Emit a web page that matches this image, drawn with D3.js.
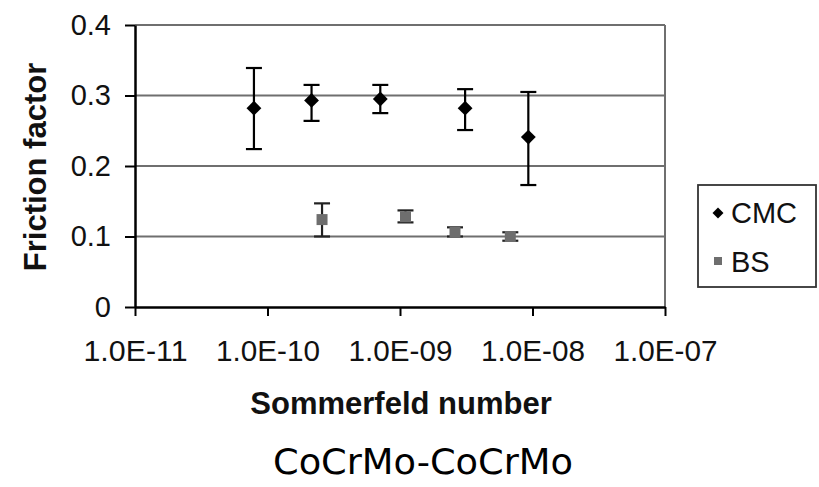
<!DOCTYPE html>
<html>
<head>
<meta charset="utf-8">
<script src="https://cdn.jsdelivr.net/npm/d3@7"></script>
<style>
  body { margin: 0; background: #fff; }
  svg { display: block; }
</style>
</head>
<body>
<div id="chart"></div>
<script>
// data
const cmcX = [7.9e-11, 2.15e-10, 7.1e-10, 3.1e-9, 9.3e-9]
const cmcY = [0.282, 0.293, 0.295, 0.282, 0.241]
const cmcHigh = [0.339, 0.315, 0.315, 0.309, 0.305]
const cmcLow = [0.224, 0.264, 0.275, 0.251, 0.173]

const bsX = [2.58e-10, 1.1e-9, 2.6e-9, 6.8e-9]
const bsY = [0.124, 0.128, 0.106, 0.100]
const bsHigh = [0.147, 0.137, 0.113, 0.106]
const bsLow = [0.100, 0.120, 0.100, 0.094]

const xTicks = [1e-11, 1e-10, 1e-9, 1e-8, 1e-7]
const xTickLabels = ["1.0E-11", "1.0E-10", "1.0E-09", "1.0E-08", "1.0E-07"]
const yTicks = [0, 0.1, 0.2, 0.3, 0.4]
const yTickLabels = ["0", "0.1", "0.2", "0.3", "0.4"]
const seriesNames = ["CMC", "BS"]

const W = 819, H = 487
const plot = { left: 135, right: 665, top: 25, bottom: 307 }

const svg = d3.select("#chart").append("svg")
    .attr("width", W)
    .attr("height", H)

const x = d3.scaleLog().domain([1e-11, 1e-7]).range([plot.left, plot.right])
const y = d3.scaleLinear().domain([0, 0.4]).range([plot.bottom, plot.top])

// gridlines
svg.append("g")
  .selectAll("line")
  .data(yTicks.filter(d => d > 0))
  .join("line")
    .attr("x1", plot.left).attr("x2", plot.right)
    .attr("y1", d => y(d)).attr("y2", d => y(d))
    .attr("stroke", "#6f6f6f").attr("stroke-width", 2)

// right border
svg.append("line")
    .attr("x1", plot.right).attr("x2", plot.right)
    .attr("y1", y(0.4)).attr("y2", y(0))
    .attr("stroke", "#6f6f6f").attr("stroke-width", 2)

// y axis
const yAxis = svg.append("g")
    .attr("transform", `translate(${plot.left},0)`)
    .call(d3.axisLeft(y)
        .tickValues(yTicks)
        .tickFormat((d, i) => yTickLabels[i])
        .tickSizeOuter(0)
        .tickSizeInner(10)
        .tickPadding(14))
yAxis.select(".domain").attr("stroke", "#000").attr("stroke-width", 2.5)
yAxis.selectAll(".tick line").attr("stroke", "#000").attr("stroke-width", 2)
yAxis.selectAll(".tick text")
    .attr("font-family", "'Liberation Sans', Arial, sans-serif")
    .attr("font-size", 29).attr("fill", "#111")

// x axis
const xAxis = svg.append("g")
    .attr("transform", `translate(0,${plot.bottom})`)
    .call(d3.axisBottom(x)
        .tickValues(xTicks)
        .tickFormat((d, i) => xTickLabels[i])
        .tickSizeOuter(0)
        .tickSizeInner(9)
        .tickPadding(24))
xAxis.select(".domain").attr("stroke", "#000").attr("stroke-width", 2.5)
xAxis.selectAll(".tick line").attr("stroke", "#000").attr("stroke-width", 2)
xAxis.selectAll(".tick text")
    .attr("font-family", "'Liberation Sans', Arial, sans-serif")
    .attr("font-size", 29).attr("fill", "#111")
    .attr("textLength", 104).attr("lengthAdjust", "spacingAndGlyphs")

// axis titles
svg.append("text")
    .attr("transform", `translate(46,167) rotate(-90)`)
    .attr("text-anchor", "middle")
    .attr("font-family", "'Liberation Sans', Arial, sans-serif")
    .attr("font-weight", "bold").attr("font-size", 31).attr("fill", "#111")
    .text("Friction factor")

svg.append("text")
    .attr("x", 401).attr("y", 414)
    .attr("text-anchor", "middle")
    .attr("font-family", "'Liberation Sans', Arial, sans-serif")
    .attr("font-weight", "bold").attr("font-size", 31).attr("fill", "#111")
    .text("Sommerfeld number")

svg.append("text")
    .attr("x", 423).attr("y", 474)
    .attr("text-anchor", "middle")
    .attr("font-family", "'DejaVu Sans', Verdana, sans-serif")
    .attr("font-size", 35).attr("fill", "#000")
    .attr("textLength", 300).attr("lengthAdjust", "spacingAndGlyphs")
    .text("CoCrMo-CoCrMo")

// error bars
function drawErrors(xs, lows, highs, color) {
  const g = svg.append("g").attr("stroke", color).attr("stroke-width", 2.2)
  xs.forEach((v, i) => {
    const cx = x(v)
    g.append("line").attr("x1", cx).attr("x2", cx).attr("y1", y(lows[i])).attr("y2", y(highs[i]))
    g.append("line").attr("x1", cx - 8).attr("x2", cx + 8).attr("y1", y(lows[i])).attr("y2", y(lows[i]))
    g.append("line").attr("x1", cx - 8).attr("x2", cx + 8).attr("y1", y(highs[i])).attr("y2", y(highs[i]))
  })
}
drawErrors(cmcX, cmcLow, cmcHigh, "#000")
drawErrors(bsX, bsLow, bsHigh, "#222")

// markers
const diamond = d3.symbol().type(d3.symbolSquare).size(110)
svg.append("g").selectAll("path")
  .data(cmcX)
  .join("path")
    .attr("d", diamond)
    .attr("transform", (d, i) => `translate(${x(d)},${y(cmcY[i])}) rotate(45)`)
    .attr("fill", "#000")

const square = d3.symbol().type(d3.symbolSquare).size(121)
svg.append("g").selectAll("path")
  .data(bsX)
  .join("path")
    .attr("d", square)
    .attr("transform", (d, i) => `translate(${x(d)},${y(bsY[i])})`)
    .attr("fill", "#6e6e6e")

// legend
const legend = svg.append("g")
legend.append("rect")
    .attr("x", 698).attr("y", 185).attr("width", 118).attr("height", 102)
    .attr("fill", "#fff").attr("stroke", "#333").attr("stroke-width", 1.8)
legend.append("path")
    .attr("d", d3.symbol().type(d3.symbolSquare).size(60))
    .attr("transform", "translate(718,213) rotate(45)")
    .attr("fill", "#000")
legend.append("path")
    .attr("d", d3.symbol().type(d3.symbolSquare).size(64))
    .attr("transform", "translate(718,261)")
    .attr("fill", "#6e6e6e")
legend.selectAll("text")
  .data(seriesNames)
  .join("text")
    .attr("x", 731)
    .attr("y", (d, i) => 223 + i * 49)
    .attr("font-family", "'Liberation Sans', Arial, sans-serif")
    .attr("font-size", 29).attr("fill", "#111")
    .text(d => d)
</script>
</body>
</html>
